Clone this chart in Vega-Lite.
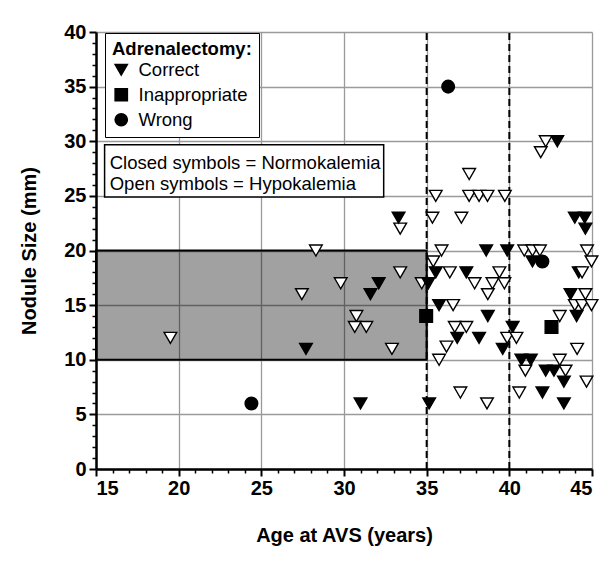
{
  "$schema": "https://vega.github.io/schema/vega-lite/v6.json",
  "width": 496,
  "height": 437,
  "autosize": {"type": "none"},
  "padding": {"left": 96, "top": 32, "right": 24, "bottom": 93},
  "background": "white",
  "config": {
    "font": "Liberation Sans",
    "view": {"stroke": null},
    "axis": {"labelColor": "black", "titleColor": "black", "tickColor": "black", "domainColor": "black"}
  },
  "datasets": {
    "points": [
      {"age": 19.5, "size": 12, "outcome": "Correct", "kalemia": "Hypokalemia"},
      {"age": 24.4, "size": 6, "outcome": "Wrong", "kalemia": "Normokalemia"},
      {"age": 27.45, "size": 16, "outcome": "Correct", "kalemia": "Hypokalemia"},
      {"age": 27.7, "size": 11, "outcome": "Correct", "kalemia": "Normokalemia"},
      {"age": 28.3, "size": 20, "outcome": "Correct", "kalemia": "Hypokalemia"},
      {"age": 29.8, "size": 17, "outcome": "Correct", "kalemia": "Hypokalemia"},
      {"age": 30.75, "size": 14, "outcome": "Correct", "kalemia": "Hypokalemia"},
      {"age": 30.65, "size": 13, "outcome": "Correct", "kalemia": "Hypokalemia"},
      {"age": 31.35, "size": 13, "outcome": "Correct", "kalemia": "Hypokalemia"},
      {"age": 31.0, "size": 6, "outcome": "Correct", "kalemia": "Normokalemia"},
      {"age": 31.6, "size": 16, "outcome": "Correct", "kalemia": "Normokalemia"},
      {"age": 32.1, "size": 17, "outcome": "Correct", "kalemia": "Normokalemia"},
      {"age": 32.9, "size": 11, "outcome": "Correct", "kalemia": "Hypokalemia"},
      {"age": 33.4, "size": 22, "outcome": "Correct", "kalemia": "Hypokalemia"},
      {"age": 33.3, "size": 23, "outcome": "Correct", "kalemia": "Normokalemia"},
      {"age": 33.4, "size": 18, "outcome": "Correct", "kalemia": "Hypokalemia"},
      {"age": 34.7, "size": 17, "outcome": "Correct", "kalemia": "Hypokalemia"},
      {"age": 35.1, "size": 17, "outcome": "Correct", "kalemia": "Normokalemia"},
      {"age": 34.97, "size": 14, "outcome": "Inappropriate", "kalemia": "Normokalemia"},
      {"age": 35.15, "size": 6, "outcome": "Correct", "kalemia": "Normokalemia"},
      {"age": 36.3, "size": 35, "outcome": "Wrong", "kalemia": "Normokalemia"},
      {"age": 35.55, "size": 25, "outcome": "Correct", "kalemia": "Hypokalemia"},
      {"age": 35.35, "size": 23, "outcome": "Correct", "kalemia": "Hypokalemia"},
      {"age": 37.1, "size": 23, "outcome": "Correct", "kalemia": "Hypokalemia"},
      {"age": 37.57, "size": 27, "outcome": "Correct", "kalemia": "Hypokalemia"},
      {"age": 37.57, "size": 25, "outcome": "Correct", "kalemia": "Hypokalemia"},
      {"age": 38.17, "size": 25, "outcome": "Correct", "kalemia": "Hypokalemia"},
      {"age": 38.68, "size": 25, "outcome": "Correct", "kalemia": "Hypokalemia"},
      {"age": 39.73, "size": 25, "outcome": "Correct", "kalemia": "Hypokalemia"},
      {"age": 35.9, "size": 20, "outcome": "Correct", "kalemia": "Hypokalemia"},
      {"age": 38.6, "size": 20, "outcome": "Correct", "kalemia": "Normokalemia"},
      {"age": 39.87, "size": 20, "outcome": "Correct", "kalemia": "Normokalemia"},
      {"age": 35.4, "size": 19, "outcome": "Correct", "kalemia": "Hypokalemia"},
      {"age": 35.55, "size": 18, "outcome": "Correct", "kalemia": "Normokalemia"},
      {"age": 36.4, "size": 18, "outcome": "Correct", "kalemia": "Hypokalemia"},
      {"age": 37.4, "size": 18, "outcome": "Correct", "kalemia": "Normokalemia"},
      {"age": 37.9, "size": 17, "outcome": "Correct", "kalemia": "Hypokalemia"},
      {"age": 39.4, "size": 18, "outcome": "Correct", "kalemia": "Hypokalemia"},
      {"age": 38.98, "size": 17, "outcome": "Correct", "kalemia": "Hypokalemia"},
      {"age": 39.7, "size": 17, "outcome": "Correct", "kalemia": "Hypokalemia"},
      {"age": 38.7, "size": 16, "outcome": "Correct", "kalemia": "Hypokalemia"},
      {"age": 35.75, "size": 15, "outcome": "Correct", "kalemia": "Normokalemia"},
      {"age": 36.6, "size": 15, "outcome": "Correct", "kalemia": "Hypokalemia"},
      {"age": 38.7, "size": 14, "outcome": "Correct", "kalemia": "Normokalemia"},
      {"age": 36.7, "size": 13, "outcome": "Correct", "kalemia": "Hypokalemia"},
      {"age": 37.4, "size": 13, "outcome": "Correct", "kalemia": "Hypokalemia"},
      {"age": 40.2, "size": 13, "outcome": "Correct", "kalemia": "Normokalemia"},
      {"age": 36.85, "size": 12, "outcome": "Correct", "kalemia": "Normokalemia"},
      {"age": 38.17, "size": 12, "outcome": "Correct", "kalemia": "Normokalemia"},
      {"age": 39.6, "size": 11, "outcome": "Correct", "kalemia": "Normokalemia"},
      {"age": 39.87, "size": 12, "outcome": "Correct", "kalemia": "Hypokalemia"},
      {"age": 40.43, "size": 12, "outcome": "Correct", "kalemia": "Hypokalemia"},
      {"age": 36.2, "size": 11.2, "outcome": "Correct", "kalemia": "Hypokalemia"},
      {"age": 35.75, "size": 10, "outcome": "Correct", "kalemia": "Hypokalemia"},
      {"age": 37.04, "size": 7, "outcome": "Correct", "kalemia": "Hypokalemia"},
      {"age": 38.65, "size": 6, "outcome": "Correct", "kalemia": "Hypokalemia"},
      {"age": 40.9, "size": 20, "outcome": "Correct", "kalemia": "Hypokalemia"},
      {"age": 41.4, "size": 20, "outcome": "Correct", "kalemia": "Hypokalemia"},
      {"age": 41.85, "size": 20, "outcome": "Correct", "kalemia": "Hypokalemia"},
      {"age": 41.4, "size": 19, "outcome": "Correct", "kalemia": "Normokalemia"},
      {"age": 42.0, "size": 19, "outcome": "Wrong", "kalemia": "Normokalemia"},
      {"age": 44.7, "size": 20, "outcome": "Correct", "kalemia": "Hypokalemia"},
      {"age": 44.97, "size": 19, "outcome": "Correct", "kalemia": "Hypokalemia"},
      {"age": 44.2, "size": 18, "outcome": "Correct", "kalemia": "Normokalemia"},
      {"age": 44.4, "size": 18, "outcome": "Correct", "kalemia": "Hypokalemia"},
      {"age": 43.7, "size": 16, "outcome": "Correct", "kalemia": "Normokalemia"},
      {"age": 44.6, "size": 16, "outcome": "Correct", "kalemia": "Hypokalemia"},
      {"age": 43.96, "size": 15, "outcome": "Correct", "kalemia": "Hypokalemia"},
      {"age": 44.4, "size": 15, "outcome": "Correct", "kalemia": "Hypokalemia"},
      {"age": 44.97, "size": 15, "outcome": "Correct", "kalemia": "Hypokalemia"},
      {"age": 44.07, "size": 14, "outcome": "Correct", "kalemia": "Normokalemia"},
      {"age": 43.05, "size": 14, "outcome": "Correct", "kalemia": "Hypokalemia"},
      {"age": 42.55, "size": 13, "outcome": "Inappropriate", "kalemia": "Normokalemia"},
      {"age": 40.73, "size": 10, "outcome": "Correct", "kalemia": "Normokalemia"},
      {"age": 41.3, "size": 10, "outcome": "Correct", "kalemia": "Normokalemia"},
      {"age": 40.97, "size": 9, "outcome": "Correct", "kalemia": "Hypokalemia"},
      {"age": 43.05, "size": 10, "outcome": "Correct", "kalemia": "Hypokalemia"},
      {"age": 42.2, "size": 9, "outcome": "Correct", "kalemia": "Normokalemia"},
      {"age": 42.7, "size": 9, "outcome": "Correct", "kalemia": "Normokalemia"},
      {"age": 43.4, "size": 9, "outcome": "Correct", "kalemia": "Hypokalemia"},
      {"age": 43.3, "size": 8, "outcome": "Correct", "kalemia": "Normokalemia"},
      {"age": 44.67, "size": 8, "outcome": "Correct", "kalemia": "Hypokalemia"},
      {"age": 44.1, "size": 11, "outcome": "Correct", "kalemia": "Hypokalemia"},
      {"age": 40.6, "size": 7, "outcome": "Correct", "kalemia": "Hypokalemia"},
      {"age": 42.0, "size": 7, "outcome": "Correct", "kalemia": "Normokalemia"},
      {"age": 43.3, "size": 6, "outcome": "Correct", "kalemia": "Normokalemia"},
      {"age": 42.2, "size": 30, "outcome": "Correct", "kalemia": "Hypokalemia"},
      {"age": 42.9, "size": 30, "outcome": "Correct", "kalemia": "Normokalemia"},
      {"age": 41.9, "size": 29, "outcome": "Correct", "kalemia": "Hypokalemia"},
      {"age": 43.96, "size": 23, "outcome": "Correct", "kalemia": "Normokalemia"},
      {"age": 44.56, "size": 23, "outcome": "Correct", "kalemia": "Normokalemia"},
      {"age": 44.6, "size": 22, "outcome": "Correct", "kalemia": "Normokalemia"}
    ],
    "cutoffs": [{"age": 35}, {"age": 40}],
    "notes": [
      {"line": "Closed symbols = Normokalemia", "order": 1},
      {"line": "Open symbols = Hypokalemia", "order": 2}
    ]
  },
  "layer": [
    {
      "data": {"values": [{"x1": 15, "x2": 35, "y1": 10, "y2": 20}]},
      "mark": {"type": "rect", "fill": "black", "fillOpacity": 0.37, "stroke": "black", "strokeWidth": 2},
      "encoding": {
        "x": {"field": "x1", "type": "quantitative", "scale": {"domain": [15, 45], "nice": false, "zero": false}, "axis": null},
        "x2": {"field": "x2"},
        "y": {"field": "y1", "type": "quantitative", "scale": {"domain": [0, 40], "nice": false}, "axis": null},
        "y2": {"field": "y2"}
      }
    },
    {
      "data": {"name": "cutoffs"},
      "mark": {"type": "rule", "color": "black", "strokeWidth": 2, "strokeDash": [7, 4]},
      "encoding": {
        "x": {"field": "age", "type": "quantitative", "axis": null},
        "y": {"datum": 0, "type": "quantitative", "axis": null},
        "y2": {"datum": 40}
      }
    },
    {
      "data": {"name": "points"},
      "mark": {"type": "point", "filled": true, "stroke": "black", "strokeWidth": 1.4, "size": 160, "opacity": 1},
      "encoding": {
        "x": {"field": "age", "type": "quantitative", "axis": {
          "orient": "bottom",
          "values": [15,16,17,18,19,20,21,22,23,24,25,26,27,28,29,30,31,32,33,34,35,36,37,38,39,40,41,42,43,44,45],
          "labelExpr": "datum.value % 5 === 0 ? datum.label : ''", "labelOverlap": false,
          "title": "Age at AVS (years)", "grid": true, "gridColor": "#9a9a9a", "gridWidth": 1.3,
          "gridOpacity": {"condition": {"test": "datum.value % 5 === 0", "value": 1}, "value": 0},
          "tickSize": {"condition": {"test": "datum.value % 5 === 0", "value": 7}, "value": 4},
          "tickWidth": {"condition": {"test": "datum.value % 5 === 0", "value": 2}, "value": 1.5},
          "domainWidth": 2.5, "labelFontSize": 20, "labelFontWeight": "bold", "labelPadding": 2, "titleFontSize": 20, "titleFontWeight": "bold", "titlePadding": 27}},
        "y": {"field": "size", "type": "quantitative", "axis": {
          "orient": "left",
          "values": [0,1,2,3,4,5,6,7,8,9,10,11,12,13,14,15,16,17,18,19,20,21,22,23,24,25,26,27,28,29,30,31,32,33,34,35,36,37,38,39,40],
          "labelExpr": "datum.value % 5 === 0 ? datum.label : ''", "labelOverlap": false,
          "title": "Nodule Size (mm)", "grid": true, "gridColor": "#9a9a9a", "gridWidth": 1.3,
          "gridOpacity": {"condition": {"test": "datum.value % 5 === 0", "value": 1}, "value": 0},
          "tickSize": {"condition": {"test": "datum.value % 5 === 0", "value": 7}, "value": 4},
          "tickWidth": {"condition": {"test": "datum.value % 5 === 0", "value": 2}, "value": 1.5},
          "domainWidth": 2.5, "labelFontSize": 20, "labelFontWeight": "bold", "labelPadding": 3, "titleFontSize": 20, "titleFontWeight": "bold", "titlePadding": 24}},
        "shape": {"field": "outcome", "type": "nominal", "scale": {"domain": ["Correct", "Inappropriate", "Wrong"], "range": ["triangle-down", "square", "circle"]},
          "legend": {"title": "Adrenalectomy:", "orient": "none", "legendX": 9, "legendY": 1, "titleFontSize": 18.5, "titleFontWeight": "bold", "titleColor": "black", "labelFontSize": 18.5, "labelColor": "black", "labelLimit": 400, "symbolFillColor": "black", "symbolStrokeColor": "black", "symbolSize": 150, "rowPadding": 6, "titlePadding": 2, "padding": 7, "strokeColor": "black", "fillColor": "white", "labelOffset": 8,
            "encode": {"legend": {"update": {"strokeWidth": {"value": 1.5}}}}}},
        "fill": {"field": "kalemia", "type": "nominal", "scale": {"domain": ["Normokalemia", "Hypokalemia"], "range": ["black", "white"]}, "legend": null}
      }
    },
    {
      "data": {"values": [{"box": "kalemia key"}]},
      "mark": {"type": "rect", "fill": "white", "stroke": "black", "strokeWidth": 1.5},
      "encoding": {
        "x": {"datum": 15.52, "type": "quantitative", "axis": null},
        "x2": {"datum": 32.4},
        "y": {"datum": 24.9, "type": "quantitative", "axis": null},
        "y2": {"datum": 29.67}
      }
    },
    {
      "data": {"name": "notes"},
      "transform": [{"filter": "datum.order === 1"}],
      "mark": {"type": "text", "align": "left", "baseline": "middle", "fontSize": 18.5, "color": "black"},
      "encoding": {
        "text": {"field": "line"},
        "x": {"datum": 15.83, "type": "quantitative", "axis": null},
        "y": {"datum": 28.0, "type": "quantitative", "axis": null}
      }
    },
    {
      "data": {"name": "notes"},
      "transform": [{"filter": "datum.order === 2"}],
      "mark": {"type": "text", "align": "left", "baseline": "middle", "fontSize": 18.5, "color": "black"},
      "encoding": {
        "text": {"field": "line"},
        "x": {"datum": 15.83, "type": "quantitative", "axis": null},
        "y": {"datum": 26.1, "type": "quantitative", "axis": null}
      }
    }
  ],
  "resolve": {"axis": {"x": "independent", "y": "independent"}}
}
